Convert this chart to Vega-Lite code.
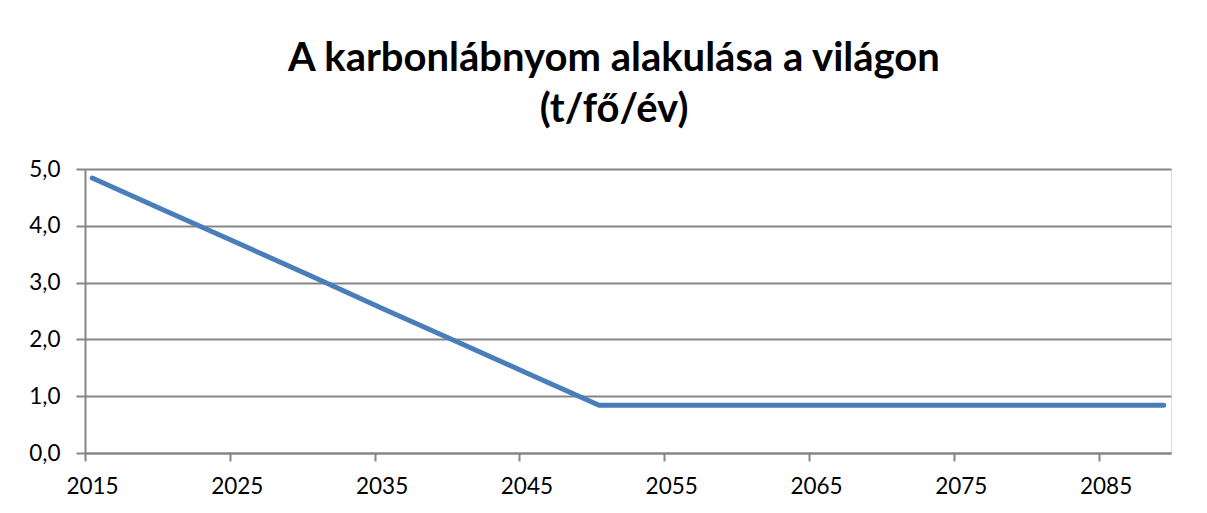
{
  "$schema": "https://vega.github.io/schema/vega-lite/v6.json",
  "width": 1086,
  "height": 284,
  "autosize": {"type": "none"},
  "padding": {"left": 85, "top": 169, "right": 36, "bottom": 60},
  "background": "white",
  "title": {
    "text": ["A karbonlábnyom alakulása a világon", "(t/fő/év)"],
    "font": "Lato",
    "fontWeight": "bold",
    "fontSize": 40,
    "lineHeight": 51,
    "color": "black",
    "anchor": "middle",
    "frame": "group",
    "dx": -14,
    "offset": 28
  },
  "data": {
    "values": [
      {"year": 2015, "value": 4.84},
      {"year": 2020, "value": 4.27},
      {"year": 2025, "value": 3.70},
      {"year": 2030, "value": 3.13},
      {"year": 2035, "value": 2.55},
      {"year": 2040, "value": 1.98},
      {"year": 2045, "value": 1.41},
      {"year": 2050, "value": 0.84},
      {"year": 2055, "value": 0.84},
      {"year": 2060, "value": 0.84},
      {"year": 2065, "value": 0.84},
      {"year": 2070, "value": 0.84},
      {"year": 2075, "value": 0.84},
      {"year": 2080, "value": 0.84},
      {"year": 2085, "value": 0.84},
      {"year": 2089, "value": 0.84}
    ]
  },
  "mark": {"type": "line", "color": "#4A7EBB", "strokeWidth": 5, "strokeCap": "round", "strokeJoin": "round"},
  "encoding": {
    "x": {
      "field": "year",
      "type": "quantitative",
      "scale": {"domain": [2014.5, 2089.5], "nice": false, "zero": false},
      "axis": {
        "values": [2014.5, 2024.5, 2034.5, 2044.5, 2054.5, 2064.5, 2074.5, 2084.5],
        "labelExpr": "format(datum.value + 0.5, 'd')",
        "labelOffset": 7,
        "grid": false,
        "title": null,
        "domainColor": "#868686",
        "domainWidth": 2,
        "tickColor": "#868686",
        "tickWidth": 2,
        "tickSize": 8,
        "labelFont": "Lato",
        "labelFontSize": 22.5,
        "labelColor": "black",
        "labelPadding": 14,
        "labelFlush": false,
        "labelOverlap": false
      }
    },
    "y": {
      "field": "value",
      "type": "quantitative",
      "scale": {"domain": [0, 5], "nice": false},
      "axis": {
        "values": [0, 1, 2, 3, 4, 5],
        "labelExpr": "replace(format(datum.value, '.1f'), '.', ',')",
        "grid": true,
        "gridColor": "#868686",
        "gridWidth": 2,
        "title": null,
        "domainColor": "#868686",
        "domainWidth": 2,
        "tickColor": "#868686",
        "tickWidth": 2,
        "tickSize": 9,
        "labelFont": "Lato",
        "labelFontSize": 22.5,
        "labelColor": "black",
        "labelPadding": 16,
        "labelFlush": false,
        "labelOverlap": false
      }
    }
  }
}
